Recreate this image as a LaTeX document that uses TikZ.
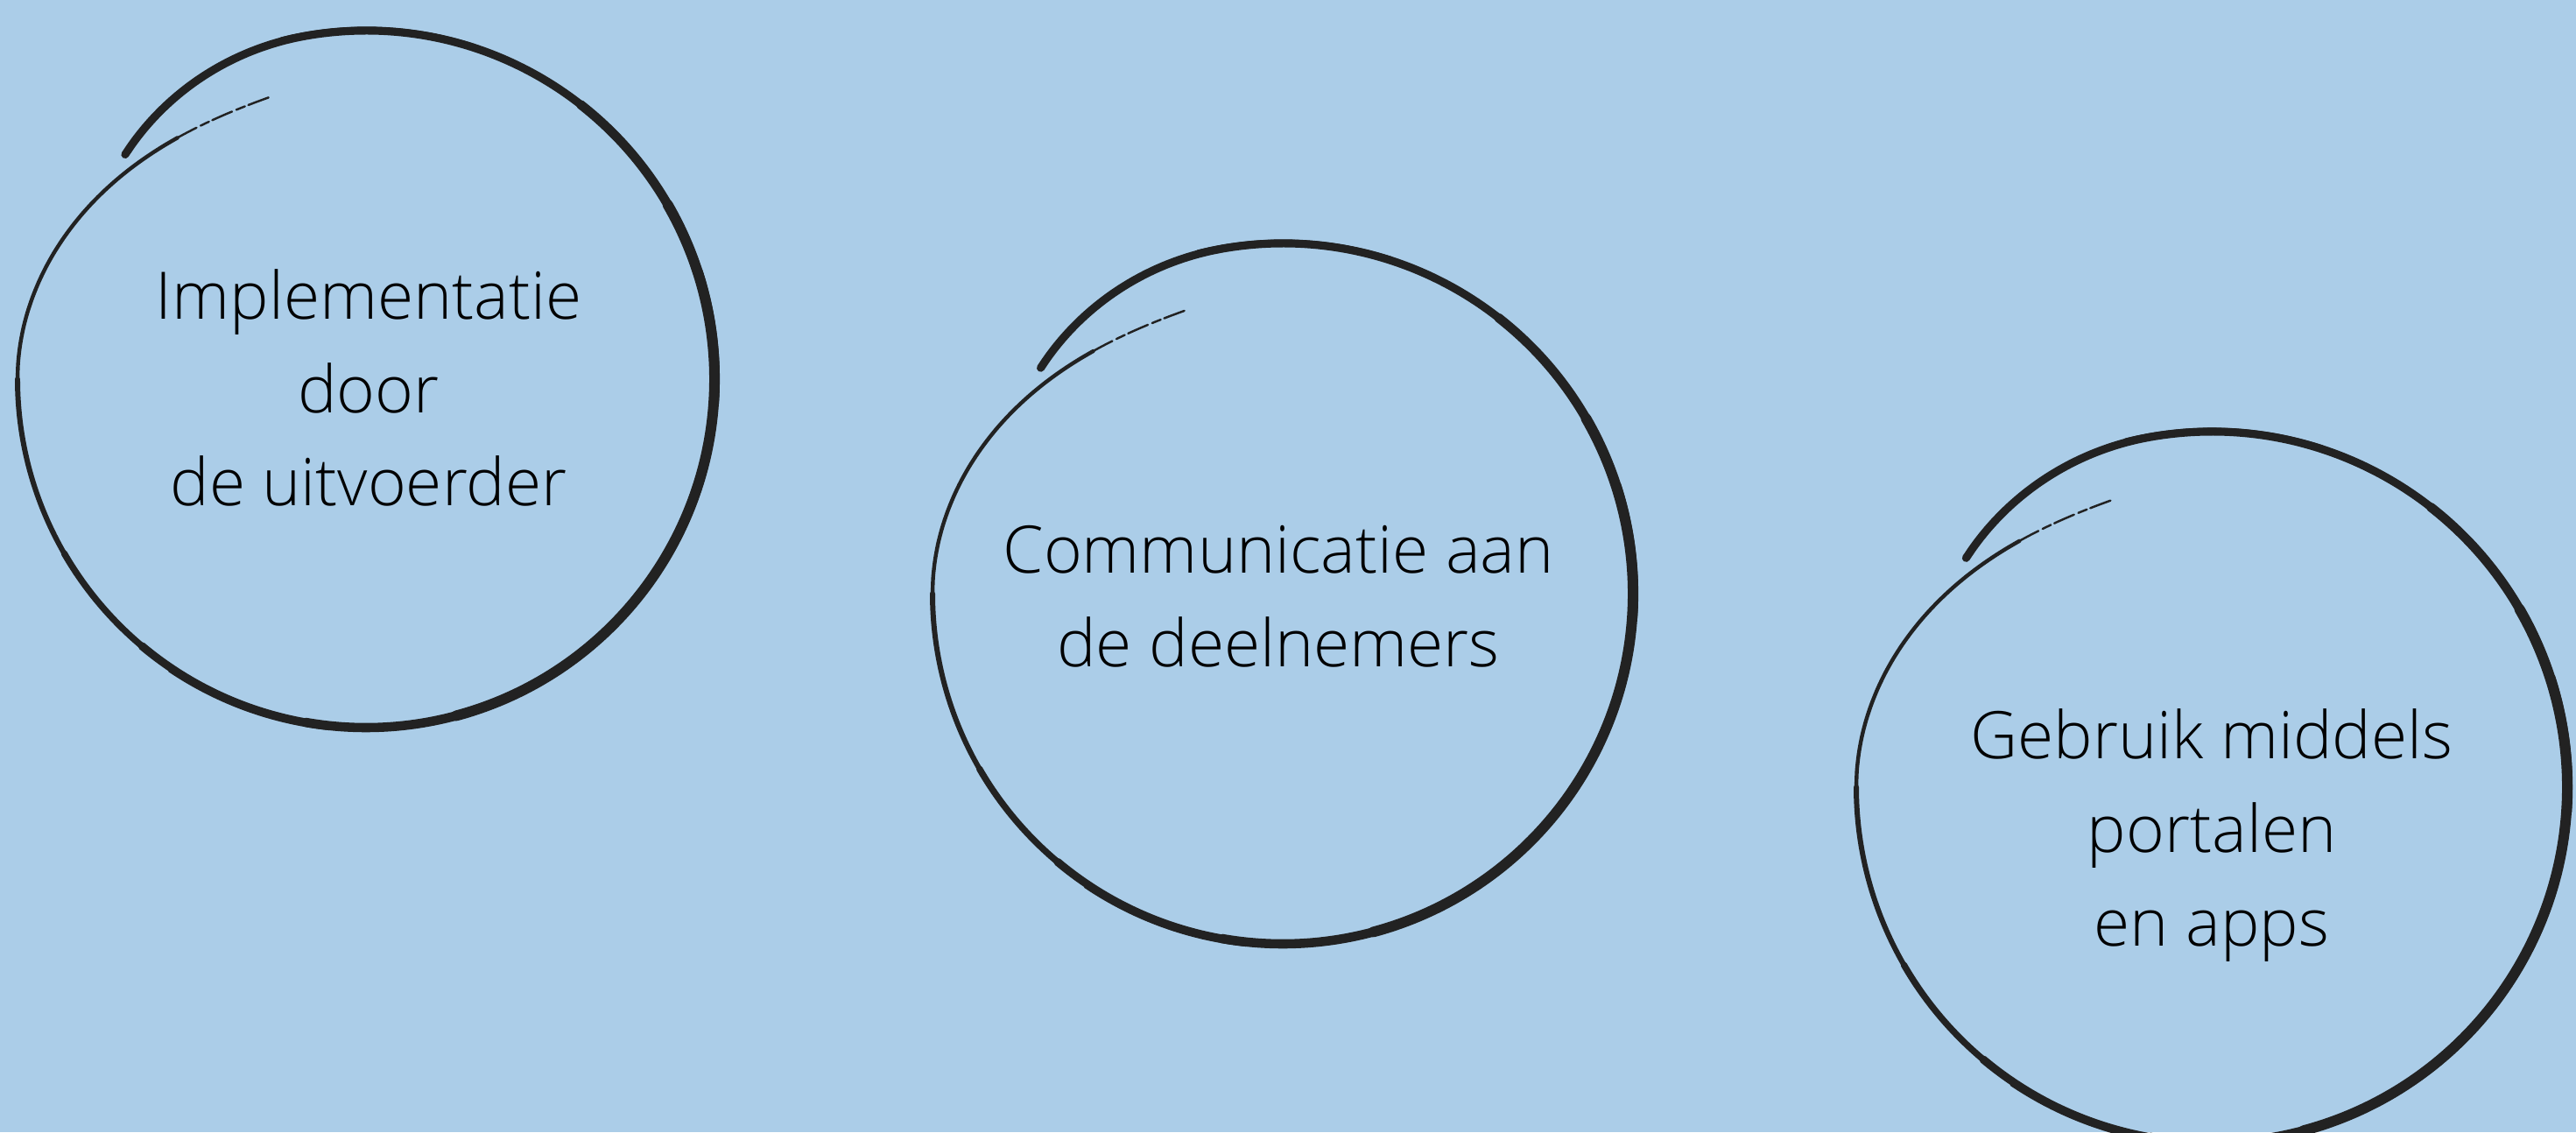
\documentclass[tikz,border=0pt]{standalone}
\usepackage{fontspec}
\setmainfont{Open Sans}[UprightFont=* Light]
\definecolor{skyback}{HTML}{ABCDE8}
\definecolor{inkline}{HTML}{222222}
\tikzset{
  brush/.style={draw=inkline, line width=2.6pt, line cap=round, line join=round},
  streak/.style={draw=inkline, line width=0.5pt, line cap=round},
  tailthin/.style={draw=inkline, line width=0.7pt, line cap=round, dash pattern=on 7pt off 1.5pt on 3pt off 1.2pt},
  ringtext/.style={align=center, font=\fontsize{21.3}{30.4}\selectfont, text=black},
  hookr/.style={smooth, variable=\t, samples=20},
  ring/.pic={
    % opening hook, then the loop
    \draw[brush] plot[hookr, domain=137:100] ({\t}:{1-0.055*((\t-100)/37)*((\t-100)/37)})
      arc[start angle=100, end angle=-130, radius=1];
    \draw[brush, line width=3pt] (52:1) arc[start angle=52, end angle=-100, radius=1];
    \draw[brush, line width=3.4pt] (30:1) arc[start angle=30, end angle=-75, radius=1];
    \draw[brush, line width=2.1pt] (-125:1) arc[start angle=-125, end angle=-150, radius=1];
    \draw[brush, line width=1.7pt] (-145:1) arc[start angle=-145, end angle=-180, radius=1];
    % overshoot that turns inward and thins out
    \draw[brush, line width=1.25pt] plot[hookr, domain=-180:-232]
      ({\t}:{1-0.145*((-180-\t)/70)*((-180-\t)/70)*(3-2*((-180-\t)/70))});
    \draw[tailthin] plot[hookr, domain=-232:-251]
      ({\t}:{1-0.145*((-180-\t)/70)*((-180-\t)/70)*(3-2*((-180-\t)/70))});
    % rough edges
    \draw[streak] (104:1.009) arc[start angle=104, end angle=72, radius=1.009];
    \draw[streak] (18:1.013) arc[start angle=18, end angle=-4, radius=1.013];
    \draw[streak] (-96:1.011) arc[start angle=-96, end angle=-124, radius=1.011];
  }
}
\begin{document}
\begin{tikzpicture}
\fill[skyback] (0,0) rectangle (29.42,12.93);
\useasboundingbox (0,0) rectangle (29.42,12.93);
\clip (0,0) rectangle (29.42,12.93);

\coordinate (c1) at (4.18,8.6);
\coordinate (c2) at (14.65,6.15);
\coordinate (c3) at (25.26,3.94);

\path (c1) pic[scale=3.98] {ring};
\path (c2) pic[scale=4.0] {ring};
\path (c3) pic[scale=4.06] {ring};

\node[ringtext] (t1) at (4.21,8.5) {Implementatie\\door\\de uitvoerder};
\node[ringtext] (t2) at (14.60,6.12) {Communicatie aan\\de deelnemers};
\node[ringtext] (t3) at (25.26,3.39) {Gebruik middels\\portalen\\en apps};
\end{tikzpicture}
\end{document}
